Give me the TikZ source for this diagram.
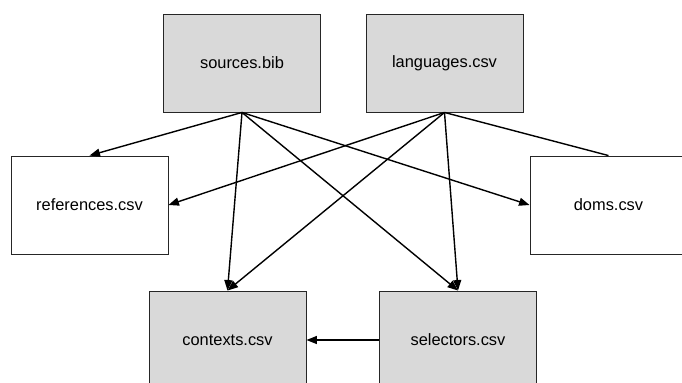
\documentclass[tikz,border=0pt]{standalone}
\usepackage{fontspec}
\setmainfont{Liberation Sans}
\usetikzlibrary{arrows.meta}
\begin{document}
\begin{tikzpicture}[x=1bp,y=-1bp,
  box/.style={draw=black!85,line width=0.9bp,minimum width=157bp,minimum height=98bp,inner sep=0pt,
    font=\fontsize{16.4bp}{19bp}\selectfont},
  gbox/.style={box,fill=black!15},
  wbox/.style={box,fill=white},
  link/.style={line width=1.4bp,-{Triangle[length=10.5bp,width=8bp]}},
  plain/.style={line width=1.4bp}]
\useasboundingbox (0,0) rectangle (682,382);
\node[gbox] (src) at (242,63) {sources.bib};
\node[gbox] (lang) at (444.5,63) {languages.csv};
\node[wbox] (ref) at (89.5,205) {references.csv};
\node[wbox] (doms) at (608.5,205) {doms.csv};
\node[gbox] (ctx) at (227.5,340) {contexts.csv};
\node[gbox] (sel) at (458,340) {selectors.csv};
\draw[link] (src.south) -- (ref.north);
\draw[link] (src.south) -- (ctx.north);
\draw[link] (src.south) -- (sel.north);
\draw[link] (src.south) -- (doms.west);
\draw[link] (lang.south) -- (ref.east);
\draw[link] (lang.south) -- (ctx.north);
\draw[link] (lang.south) -- (sel.north);
\draw[plain] (lang.south) -- (doms.north);
\draw[link] (sel.west) -- (ctx.east);
\end{tikzpicture}
\end{document}
